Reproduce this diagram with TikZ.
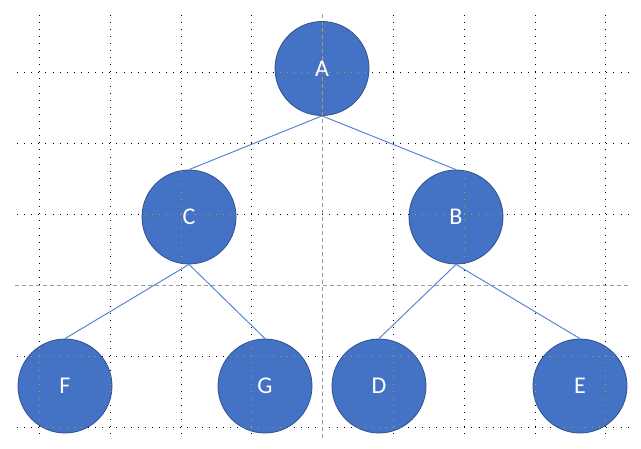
\documentclass[tikz,border=0pt]{standalone}
\usepackage{fontspec}
\setmainfont{Carlito}
\definecolor{nodefill}{HTML}{4472C4}
\definecolor{nodeborder}{HTML}{2F528F}
\definecolor{edgeblue}{HTML}{5A87D0}
\definecolor{guidegray}{HTML}{9A9A9A}
\definecolor{guideorange}{HTML}{C9963E}
\begin{document}
\begin{tikzpicture}[x=1pt,y=-1pt,
  treenode/.style={circle,draw=nodeborder,line width=0.8pt,fill=nodefill,minimum size=94pt,inner sep=0pt},
  nodelabel/.style={text=white,font=\fontsize{24}{24}\selectfont,inner sep=0pt},
  edge/.style={draw=edgeblue,line width=1pt},
  griddot/.style={line width=1pt,dash pattern=on 1pt off 6.1pt},
  guidedash/.style={line width=1pt,dash pattern=on 4pt off 3pt}]
\useasboundingbox (0,0) rectangle (641,448);
\fill[white] (0,0) rectangle (641,448);
% grid
\newcommand{\drawgrid}[2]{%
  \foreach \gx in {39,110,181,251,393,464,535,605} {\draw[griddot,#1] (\gx,14.5) -- (\gx,434);}
  \foreach \gy in {72,143,214,356,427} {\draw[griddot,#1] (17,\gy) -- (629,\gy);}
  \draw[guidedash,#2] (322,14) -- (322,438);
  \draw[guidedash,#2] (15,285) -- (630,285);
}
\drawgrid{black}{guidegray}
% nodes
\node[treenode] (A) at (322,68.5) {};
\node[treenode] (C) at (189,217) {};
\node[treenode] (B) at (456,217) {};
\node[treenode] (F) at (65,386) {};
\node[treenode] (G) at (265,386) {};
\node[treenode] (D) at (379,386) {};
\node[treenode] (E) at (580,386) {};
% edges
\draw[edge] (A.south) -- (C.north);
\draw[edge] (A.south) -- (B.north);
\draw[edge] (C.south) -- (F.north);
\draw[edge] (C.south) -- (G.north);
\draw[edge] (B.south) -- (D.north);
\draw[edge] (B.south) -- (E.north);
% grid seen through nodes
\begin{scope}
  \clip (322,68.5) circle (46.5) (189,217) circle (46.5) (456,217) circle (46.5)
        (65,386) circle (46.5) (265,386) circle (46.5) (379,386) circle (46.5) (580,386) circle (46.5);
  \drawgrid{guideorange}{guideorange}
\end{scope}
% labels
\foreach \n in {A,B,C,D,E,F,G} {\node[nodelabel] (l\n) at (\n.center) {\n};}
\end{tikzpicture}
\end{document}
